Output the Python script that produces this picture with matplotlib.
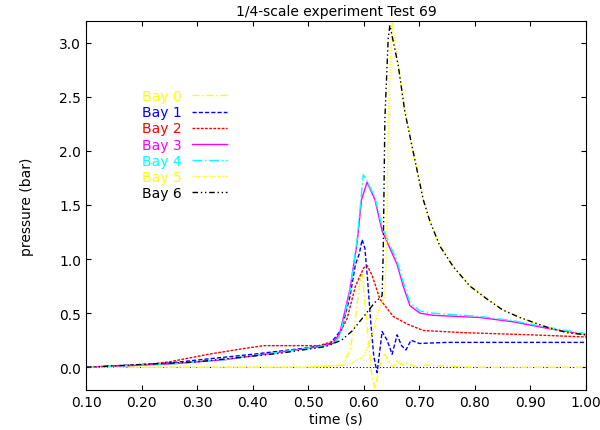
import matplotlib
matplotlib.use("Agg")
import matplotlib.pyplot as plt

bay0_t = [0.10, 0.30, 0.50, 0.56, 0.575, 0.585, 0.592, 0.597, 0.602, 0.608, 0.614, 0.620, 0.626, 0.632, 0.638, 0.645, 0.652, 0.660, 0.668, 0.676, 0.690, 0.71, 0.80, 1.00]
bay0_p = [0.00, 0.00, 0.00, 0.02, 0.15, 0.45, 0.75, 0.86, 0.60, 0.25, -0.05, -0.20, -0.05, 0.08, 0.12, 0.05, 0.00, 0.07, 0.02, 0.04, 0.01, 0.02, 0.00, 0.00]

bay1_t = [0.10, 0.25, 0.40, 0.50, 0.54, 0.56, 0.575, 0.585, 0.592, 0.597, 0.602, 0.607, 0.612, 0.618, 0.624, 0.633, 0.642, 0.651, 0.660, 0.668, 0.676, 0.685, 0.70, 0.75, 0.85, 1.00]
bay1_p = [0.00, 0.04, 0.12, 0.18, 0.22, 0.35, 0.65, 0.95, 1.05, 1.18, 1.10, 0.80, 0.45, 0.10, -0.05, 0.33, 0.25, 0.12, 0.30, 0.20, 0.16, 0.25, 0.22, 0.23, 0.23, 0.23]

bay2_t = [0.10, 0.20, 0.25, 0.32, 0.38, 0.42, 0.47, 0.52, 0.55, 0.57, 0.585, 0.60, 0.606, 0.615, 0.629, 0.653, 0.678, 0.707, 0.78, 0.90, 1.00]
bay2_p = [0.00, 0.02, 0.05, 0.12, 0.17, 0.20, 0.20, 0.20, 0.25, 0.45, 0.75, 0.92, 0.94, 0.85, 0.63, 0.47, 0.40, 0.34, 0.32, 0.30, 0.28]

bay3_t = [0.10, 0.25, 0.35, 0.45, 0.52, 0.545, 0.557, 0.575, 0.588, 0.596, 0.606, 0.62, 0.633, 0.647, 0.660, 0.671, 0.683, 0.701, 0.725, 0.809, 0.869, 0.93, 1.00]
bay3_p = [0.00, 0.03, 0.07, 0.14, 0.19, 0.22, 0.32, 0.72, 1.15, 1.55, 1.71, 1.55, 1.26, 1.10, 0.95, 0.75, 0.57, 0.50, 0.48, 0.46, 0.42, 0.36, 0.30]

bay4_t = [0.10, 0.25, 0.35, 0.45, 0.52, 0.545, 0.557, 0.575, 0.588, 0.599, 0.606, 0.62, 0.633, 0.647, 0.660, 0.671, 0.683, 0.701, 0.725, 0.809, 0.869, 0.93, 1.00]
bay4_p = [0.00, 0.03, 0.07, 0.14, 0.19, 0.21, 0.29, 0.70, 1.18, 1.78, 1.72, 1.57, 1.30, 1.13, 0.98, 0.79, 0.60, 0.52, 0.50, 0.47, 0.43, 0.37, 0.31]

bay5_t = [0.10, 0.50, 0.57, 0.60, 0.615, 0.625, 0.632, 0.638, 0.642, 0.644, 0.651, 0.662, 0.674, 0.689, 0.707, 0.719, 0.737, 0.761, 0.791, 0.822, 0.850, 0.881, 0.930, 0.966, 1.00]
bay5_p = [0.00, 0.00, 0.02, 0.10, 0.30, 0.50, 0.60, 0.66, 1.37, 2.30, 3.19, 2.79, 2.36, 1.99, 1.55, 1.35, 1.12, 0.93, 0.75, 0.63, 0.53, 0.46, 0.37, 0.32, 0.30]

bay6_t = [0.10, 0.30, 0.45, 0.53, 0.56, 0.58, 0.60, 0.62, 0.633, 0.635, 0.638, 0.644, 0.647, 0.662, 0.674, 0.689, 0.707, 0.719, 0.737, 0.761, 0.791, 0.822, 0.850, 0.881, 0.930, 0.966, 1.00]
bay6_p = [0.00, 0.05, 0.13, 0.19, 0.25, 0.34, 0.47, 0.60, 0.66, 1.06, 2.30, 3.04, 3.16, 2.79, 2.36, 1.99, 1.55, 1.35, 1.12, 0.93, 0.75, 0.63, 0.53, 0.46, 0.37, 0.32, 0.30]

series = [
    ("Bay 0", bay0_t, bay0_p, "#ffff00", (0, (5, 2, 1, 2))),
    ("Bay 1", bay1_t, bay1_p, "#0000ff", (0, (3, 1.5))),
    ("Bay 2", bay2_t, bay2_p, "#ff0000", (0, (2, 1))),
    ("Bay 3", bay3_t, bay3_p, "#ff00ff", "-"),
    ("Bay 4", bay4_t, bay4_p, "#00ffff", (0, (7, 2, 1, 2))),
    ("Bay 5", bay5_t, bay5_p, "#ffff00", (0, (1, 1))),
    ("Bay 6", bay6_t, bay6_p, "#000000", (0, (4, 2, 1, 2, 1, 2))),
]

fig = plt.figure(figsize=(6, 4.31), dpi=100)
ax = fig.add_axes([86/600, 1-391/431, 500/600, 369/431])
ax.axhline(0, color="black", lw=0.8, ls=(0, (1, 2)))
for name, t, p, c, ls in series:
    ax.plot(t, p, color=c, ls=ls, lw=1.0, label=name)

ax.set_xlim(0.1, 1.0)
ax.set_ylim(-0.21, 3.2)
ax.set_xticks([0.1 + 0.1*i for i in range(10)])
ax.set_xticklabels(["0.10", "0.20", "0.30", "0.40", "0.50", "0.60", "0.70", "0.80", "0.90", "1.00"])
ax.set_yticks([0.0, 0.5, 1.0, 1.5, 2.0, 2.5, 3.0])
ax.set_yticklabels(["0.0", "0.5", "1.0", "1.5", "2.0", "2.5", "3.0"])
ax.tick_params(direction="in", top=True, right=True, labelsize=10)
ax.set_xlabel("time (s)", fontsize=10, labelpad=2)
ax.set_ylabel("pressure (bar)", fontsize=10, labelpad=18)
ax.set_title("1/4-scale experiment Test 69", fontsize=10, pad=4)
leg = ax.legend(loc="upper left", bbox_to_anchor=(0.1, 0.83), frameon=False,
                markerfirst=False, handlelength=2.5, labelspacing=0.15, fontsize=10,
                borderaxespad=0)
for txt, (_, _, _, c, _) in zip(leg.get_texts(), series):
    txt.set_color(c)
fig.savefig("out.png", dpi=100)
